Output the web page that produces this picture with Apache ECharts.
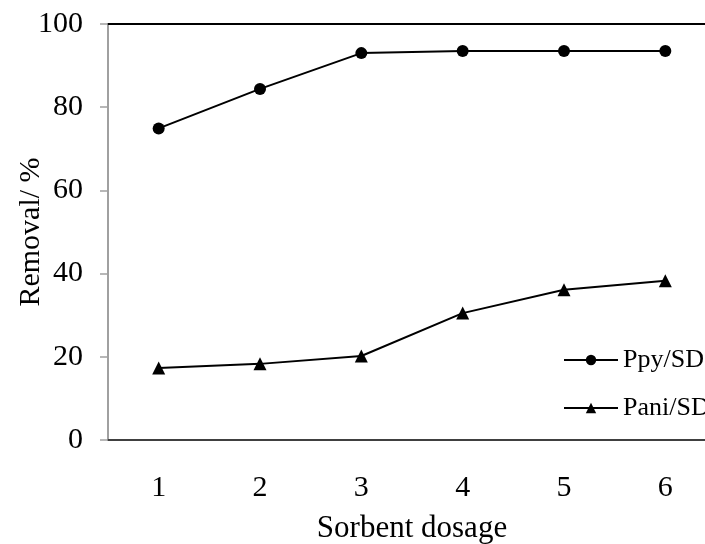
<!DOCTYPE html>
<html>
<head>
<meta charset="utf-8">
<script src="https://cdn.jsdelivr.net/npm/echarts@6/dist/echarts.min.js"></script>
<style>html,body{margin:0;padding:0;background:#fff}#c{width:705px;height:544px}</style>
</head>
<body>
<div id="c"></div>
<script>
const categories = ['1', '2', '3', '4', '5', '6'];
const ppySD = [74.9, 84.4, 93.0, 93.5, 93.5, 93.5];
const paniSD = [17.3, 18.3, 20.2, 30.5, 36.1, 38.3];
const yTicks = { min: 0, max: 100, interval: 20 };

const font = 'Liberation Serif';
const chart = echarts.init(document.getElementById('c'));
chart.setOption({
  animation: false,
  backgroundColor: '#fff',
  grid: { left: 108, top: 24, width: 608, height: 416, containLabel: false, outerBoundsMode: 'none' },
  legend: {
    orient: 'vertical',
    left: 558,
    top: 342,
    itemWidth: 54,
    itemHeight: 13,
    itemGap: 22,
    textStyle: { fontFamily: font, fontSize: 26, color: '#000' },
    data: ['Ppy/SD', 'Pani/SD']
  },
  xAxis: [{
    type: 'category',
    data: categories,
    name: 'Sorbent dosage',
    nameLocation: 'middle',
    nameGap: 73,
    nameMoveOverlap: false,
    nameTextStyle: { fontFamily: font, fontSize: 31, color: '#000' },
    axisLine: { lineStyle: { color: '#404040', width: 2 } },
    axisTick: { length: 10, lineStyle: { color: '#a0a0a0', width: 1.5 } },
    axisLabel: { fontFamily: font, fontSize: 30, color: '#000', margin: 33 }
  }, {
    type: 'category',
    position: 'top',
    data: categories,
    axisLine: { lineStyle: { color: '#000', width: 2 } },
    axisTick: { show: false },
    axisLabel: { show: false }
  }],
  yAxis: {
    type: 'value',
    min: yTicks.min,
    max: yTicks.max,
    interval: yTicks.interval,
    name: 'Removal/ %',
    nameLocation: 'middle',
    nameGap: 62,
    nameMoveOverlap: false,
    nameTextStyle: { fontFamily: font, fontSize: 30, color: '#000' },
    axisLine: { show: true, lineStyle: { color: '#808080', width: 1.5 } },
    axisTick: { show: true, length: 8, lineStyle: { color: '#a0a0a0', width: 1.5 } },
    axisLabel: { fontFamily: font, fontSize: 30, color: '#000', margin: 25 },
    splitLine: { show: false }
  },
  series: [{
    name: 'Ppy/SD',
    type: 'line',
    data: ppySD,
    symbol: 'circle',
    symbolSize: 12,
    lineStyle: { color: '#000', width: 2 },
    itemStyle: { color: '#000' }
  }, {
    name: 'Pani/SD',
    type: 'line',
    data: paniSD,
    symbol: 'triangle',
    symbolSize: 13,
    lineStyle: { color: '#000', width: 2 },
    itemStyle: { color: '#000' }
  }]
});
</script>
</body>
</html>
